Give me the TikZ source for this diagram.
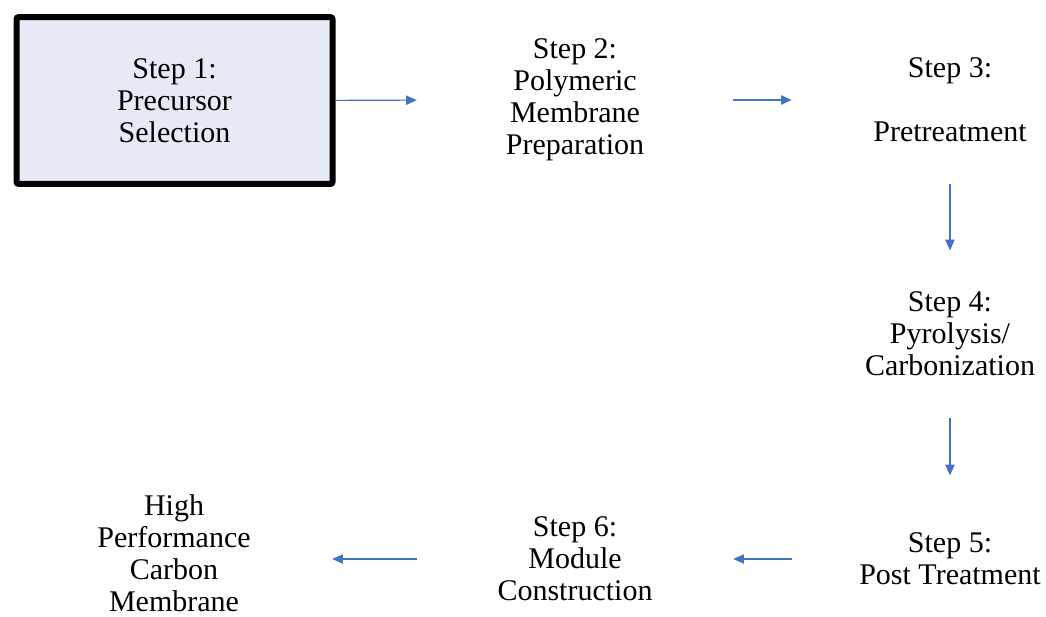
\documentclass[tikz,border=0pt]{standalone}
\usepackage{fontspec}
\setmainfont{Liberation Serif}
\usetikzlibrary{arrows.meta,positioning}

\definecolor{flowblue}{HTML}{4472C4}
\definecolor{boxfill}{HTML}{E6EAF5}

\tikzset{
  steptext/.style={minimum width=237pt,inner sep=0pt,align=center,
    font=\fontsize{22.5}{24}\selectfont},
  stepbox/.style={steptext,minimum height=125pt},
  startbox/.style={stepbox,draw=black,line width=4.5pt,fill=boxfill,rounded corners=1.5pt},
  flow/.style={-{Triangle[length=8pt,width=7pt]},draw=flowblue,line width=0.8pt}
}

\begin{document}
\begin{tikzpicture}[x=0.75pt,y=-0.75pt]
  \useasboundingbox (0,0) rectangle (1046,617);
  % top row
  \node[startbox] (s1) at (174.5,100.5) {Step 1:\\Precursor\\Selection};
  \node[stepbox] (s2) at (575,100) {Step 2:\\Polymeric\\Membrane\\Preparation};
  \node[stepbox] (s3) at (950,100) {Step 3:\\ \\Pretreatment};
  % right column
  \node[stepbox] (s4) at (950,334) {Step 4:\\Pyrolysis/\\Carbonization};
  \node[stepbox] (s5) at (950,559) {Step 5:\\Post Treatment};
  % bottom row
  \node[stepbox] (s6) at (575,559) {Step 6:\\Module\\Construction};
  \node[steptext] (s7) at (174,553) {High\\Performance\\Carbon\\Membrane};
  \draw[flow] (s1) -- (s2);
  \draw[flow] (s2) -- (s3);
  \draw[flow] (s3) -- (s4);
  \draw[flow] (s4) -- (s5);
  \draw[flow] (s5) -- (s6);
  \draw[flow] (s6) -- (s6 -| s7.east);
\end{tikzpicture}
\end{document}
